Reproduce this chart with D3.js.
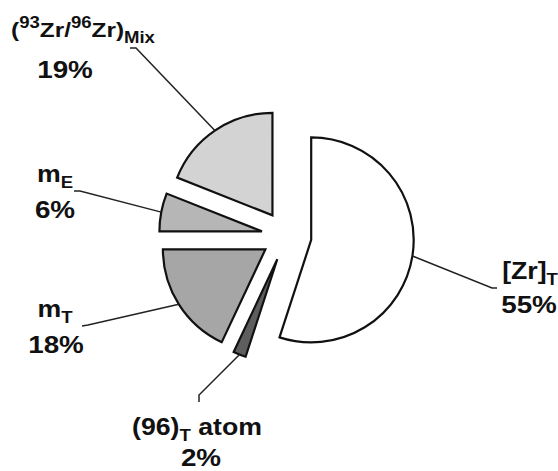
<!DOCTYPE html>
<html><head><meta charset="utf-8">
<script src="https://cdn.jsdelivr.net/npm/d3@7"></script>
<style>html,body{margin:0;padding:0;background:#fff;} svg{display:block;}</style>
</head><body><svg id="chart" width="558" height="471"></svg>
<script>
// ---- data ----
const categories = ["[Zr]T", "(96)T atom", "mT", "mE", "(93Zr/96Zr)Mix"];
const values = [55, 2, 18, 6, 19];
const percentLabels = ["55%", "2%", "18%", "6%", "19%"];
const colors = ["#ffffff", "#5e5e5e", "#a6a6a6", "#b6b6b6", "#d3d3d3"];
// rich-text pieces of each category name (sub = subscript, sup = superscript)
const nameParts = [
  [["[Zr]", ""], ["T", "sub"]],
  [["(96)", ""], ["T", "sub"], [" atom", ""]],
  [["m", ""], ["T", "sub"]],
  [["m", ""], ["E", "sub"]],
  [["(", ""], ["93", "sup"], ["Zr/", ""], ["96", "sup"], ["Zr)", ""], ["Mix", "sub"]]
];

// ---- layout ----
const cx = 286.5, cy = 236, R = 102.5, explode = 25;
const labelLayout = [
  {nx: 530, ny: 279, px: 529, py: 313, elbow: [492, 288], end: [497, 288], nameSize: 23},
  {nx: 197, ny: 435, px: 201, py: 466, elbow: [199, 395], end: [199, 402], nameSize: 23},
  {nx: 55, ny: 317, px: 56, py: 353, elbow: [88, 325], end: [82, 326], nameSize: 23},
  {nx: 55, ny: 182, px: 55, py: 218, elbow: [80, 191], end: [74, 191], nameSize: 23},
  {nx: 83, ny: 37, px: 65, py: 78, elbow: [136, 48], end: [130, 48], nameSize: 21}
];
const sx = 1.16;

const svg = d3.select("#chart");
const pie = d3.pie().sort(null).startAngle(0).endAngle(2 * Math.PI).value(d => d);
const arcs = pie(values);
const arc = d3.arc().innerRadius(0).outerRadius(R);

const g = svg.append("g").attr("transform", `translate(${cx},${cy})`);

arcs.forEach((a, i) => {
  const mid = (a.startAngle + a.endAngle) / 2;
  const ox = Math.sin(mid) * explode, oy = -Math.cos(mid) * explode;
  g.append("path")
    .attr("d", arc(a))
    .attr("transform", `translate(${ox},${oy})`)
    .attr("fill", colors[i])
    .attr("stroke", "#111")
    .attr("stroke-width", 2.2)
    .attr("stroke-linejoin", "miter");
  // leader line
  const L = labelLayout[i];
  const p0 = [cx + ox + Math.sin(mid) * R, cy + oy - Math.cos(mid) * R];
  svg.append("polyline")
    .attr("points", [p0, L.elbow, L.end].map(p => p.join(",")).join(" "))
    .attr("fill", "none")
    .attr("stroke", "#222")
    .attr("stroke-width", 1.5);
});

// labels
categories.forEach((c, i) => {
  const L = labelLayout[i];
  const t = svg.append("text")
    .attr("transform", `translate(${L.nx},${L.ny}) scale(${sx},1)`)
    .attr("text-anchor", "middle")
    .attr("font-family", "'Liberation Sans', Arial, sans-serif")
    .attr("font-weight", "bold")
    .attr("fill", "#111")
    .attr("font-size", L.nameSize);
  let shift = 0;
  nameParts[i].forEach(([txt, kind]) => {
    let target = 0, size = L.nameSize;
    if (kind === "sub") { target = 6; size = 16; }
    if (kind === "sup") { target = -9; size = 16; }
    t.append("tspan").attr("dy", target - shift).attr("font-size", size).text(txt);
    shift = target;
  });
  svg.append("text")
    .attr("transform", `translate(${L.px},${L.py}) scale(${sx},1)`)
    .attr("text-anchor", "middle")
    .attr("font-family", "'Liberation Sans', Arial, sans-serif")
    .attr("font-weight", "bold")
    .attr("fill", "#111")
    .attr("font-size", 24)
    .text(percentLabels[i]);
});
</script></body></html>
